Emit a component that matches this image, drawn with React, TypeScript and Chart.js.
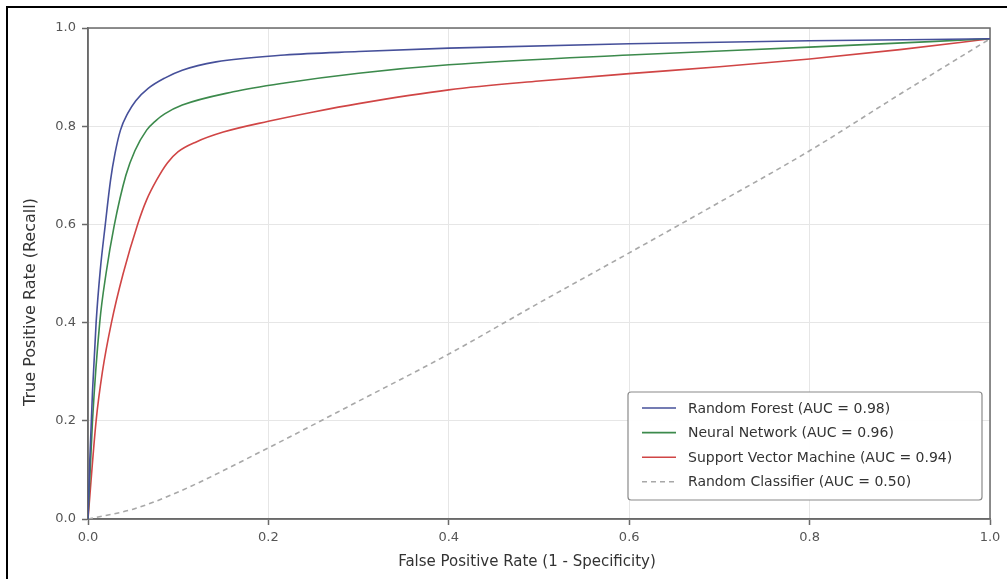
import React, { useEffect, useRef } from "react";
import { Chart, registerables } from "chart.js";

Chart.register(...registerables);

// ---- Data ----
const rfFpr = [0, 0.002, 0.005, 0.009, 0.0136, 0.019, 0.025, 0.03, 0.036, 0.044, 0.053, 0.0667, 0.085, 0.1045, 0.142, 0.218, 0.3, 0.4, 0.6, 0.8, 1.0];
const rfTpr = [0, 0.12, 0.26, 0.4, 0.507, 0.597, 0.69, 0.745, 0.792, 0.826, 0.852, 0.877, 0.898, 0.914, 0.931, 0.945, 0.952, 0.959, 0.968, 0.974, 0.978];

const nnFpr = [0, 0.005, 0.013, 0.02, 0.029, 0.042, 0.052, 0.065, 0.075, 0.085, 0.1045, 0.161, 0.218, 0.3, 0.4, 0.6, 0.8, 1.0];
const nnTpr = [0, 0.2, 0.4, 0.5, 0.597, 0.7, 0.75, 0.792, 0.811, 0.825, 0.843, 0.87, 0.888, 0.908, 0.925, 0.945, 0.961, 0.978];

const svmFpr = [0, 0.009, 0.016, 0.026, 0.039, 0.055, 0.065, 0.076, 0.088, 0.1, 0.12, 0.15, 0.2, 0.25, 0.3, 0.4, 0.5, 0.6, 0.7, 0.8, 0.9, 1.0];
const svmTpr = [0, 0.2, 0.3, 0.4, 0.5, 0.6, 0.65, 0.69, 0.725, 0.748, 0.768, 0.788, 0.81, 0.829, 0.846, 0.874, 0.892, 0.907, 0.921, 0.937, 0.956, 0.978];

const randFpr = [0, 0.05, 0.1, 0.2, 0.3, 0.4, 0.5, 0.6, 0.7, 0.8, 0.9, 1.0];
const randTpr = [0, 0.02, 0.055, 0.145, 0.24, 0.336, 0.44, 0.542, 0.645, 0.75, 0.865, 0.978];

const seriesLabels = [
  "Random Forest (AUC = 0.98)",
  "Neural Network (AUC = 0.96)",
  "Support Vector Machine (AUC = 0.94)",
  "Random Classifier (AUC = 0.50)",
];
const seriesColors = ["#46509a", "#3c8a4c", "#d04545", "#a8a8a8"];

const xTitle = "False Positive Rate (1 - Specificity)";
const yTitle = "True Positive Rate (Recall)";
const tickStep = 0.2;

const toPoints = (xs: number[], ys: number[]) => xs.map((x, i) => ({ x, y: ys[i] }));

const FONT = '"DejaVu Sans", Arial, sans-serif';

const framePlugin = {
  id: "frameAndTitles",
  beforeDatasetsDraw(chart: any) {
    const { ctx, chartArea } = chart;
    ctx.save();
    ctx.strokeStyle = "#6a6a6a";
    ctx.lineWidth = 1.5;
    ctx.strokeRect(chartArea.left, chartArea.top, chartArea.right - chartArea.left, chartArea.bottom - chartArea.top);
    ctx.restore();
  },
  afterDraw(chart: any) {
    const { ctx, chartArea } = chart;
    ctx.save();
    // axis titles
    ctx.fillStyle = "#333";
    ctx.font = `15px ${FONT}`;
    ctx.textAlign = "center";
    ctx.textBaseline = "middle";
    ctx.fillText(xTitle, 527, 562);
    ctx.save();
    ctx.translate(31, 302);
    ctx.rotate(-Math.PI / 2);
    ctx.font = `16px ${FONT}`;
    ctx.fillText(yTitle, 0, 0);
    ctx.restore();

    // legend
    const bx = 628, by = 392, bw = chartArea.right - 8 - bx, bh = 108;
    ctx.beginPath();
    const r = 3;
    ctx.moveTo(bx + r, by);
    ctx.lineTo(bx + bw - r, by);
    ctx.quadraticCurveTo(bx + bw, by, bx + bw, by + r);
    ctx.lineTo(bx + bw, by + bh - r);
    ctx.quadraticCurveTo(bx + bw, by + bh, bx + bw - r, by + bh);
    ctx.lineTo(bx + r, by + bh);
    ctx.quadraticCurveTo(bx, by + bh, bx, by + bh - r);
    ctx.lineTo(bx, by + r);
    ctx.quadraticCurveTo(bx, by, bx + r, by);
    ctx.closePath();
    ctx.fillStyle = "rgba(255,255,255,0.95)";
    ctx.fill();
    ctx.strokeStyle = "#8a8a8a";
    ctx.lineWidth = 1.2;
    ctx.stroke();

    ctx.font = `14px ${FONT}`;
    ctx.textAlign = "left";
    ctx.textBaseline = "middle";
    chart.data.datasets.forEach((ds: any, i: number) => {
      const y = by + 16 + i * 24.6;
      ctx.beginPath();
      ctx.setLineDash(ds.borderDash || []);
      ctx.strokeStyle = ds.borderColor;
      ctx.lineWidth = ds.borderWidth;
      ctx.moveTo(bx + 14, y);
      ctx.lineTo(bx + 48, y);
      ctx.stroke();
      ctx.setLineDash([]);
      ctx.fillStyle = "#333";
      ctx.fillText(ds.label, bx + 60, y + 1);
    });
    ctx.restore();
  },
};

export default function App() {
  const canvasRef = useRef<HTMLCanvasElement | null>(null);

  useEffect(() => {
    if (!canvasRef.current) return;
    const datasets = [
      { data: toPoints(rfFpr, rfTpr), borderDash: [] as number[], width: 1.6 },
      { data: toPoints(nnFpr, nnTpr), borderDash: [] as number[], width: 1.6 },
      { data: toPoints(svmFpr, svmTpr), borderDash: [] as number[], width: 1.6 },
      { data: toPoints(randFpr, randTpr), borderDash: [5, 4], width: 1.6 },
    ].map((d, i) => ({
      label: seriesLabels[i],
      data: d.data,
      borderColor: seriesColors[i],
      backgroundColor: seriesColors[i],
      borderWidth: d.width,
      borderDash: d.borderDash,
      pointRadius: 0,
      fill: false,
      cubicInterpolationMode: "monotone" as const,
    }));

    const axisCommon = (horizontal: boolean) => ({
      type: "linear" as const,
      min: 0,
      max: 1,
      ticks: {
        stepSize: tickStep,
        color: "#555",
        font: { family: FONT, size: 13 },
        padding: horizontal ? 5 : 6,
        callback: (v: any) => Number(v).toFixed(1),
      },
      grid: {
        color: "#e6e6e6",
        lineWidth: 1,
        tickLength: 6,
        tickColor: "#6a6a6a",
        tickWidth: 1.5,
      },
      border: { display: true, color: "#6a6a6a", width: 1.5 },
      title: { display: false },
    });

    const chart = new Chart(canvasRef.current, {
      type: "line",
      data: { datasets },
      options: {
        animation: false,
        responsive: false,
        maintainAspectRatio: false,
        layout: { padding: { top: 28, right: 17, left: 0, bottom: 0 } },
        plugins: {
          legend: { display: false },
          tooltip: { enabled: false },
        },
        scales: {
          x: {
            ...axisCommon(true),
            afterFit: (scale: any) => {
              scale.height = 60;
            },
          },
          y: {
            ...axisCommon(false),
            afterFit: (scale: any) => {
              scale.width = 88;
            },
          },
        },
      },
      plugins: [framePlugin],
    } as any);

    return () => chart.destroy();
  }, []);

  return (
    <div style={{ position: "fixed", left: 0, top: 0, width: 1007, height: 579, background: "#fff", overflow: "hidden" }}>
      <div
        style={{
          position: "absolute",
          left: 6,
          top: 6,
          width: 1020,
          height: 600,
          borderTop: "2px solid #000",
          borderLeft: "2px solid #000",
        }}
      />
      <canvas ref={canvasRef} width={1007} height={579} style={{ position: "absolute", left: 0, top: 0, width: 1007, height: 579 }} />
    </div>
  );
}
